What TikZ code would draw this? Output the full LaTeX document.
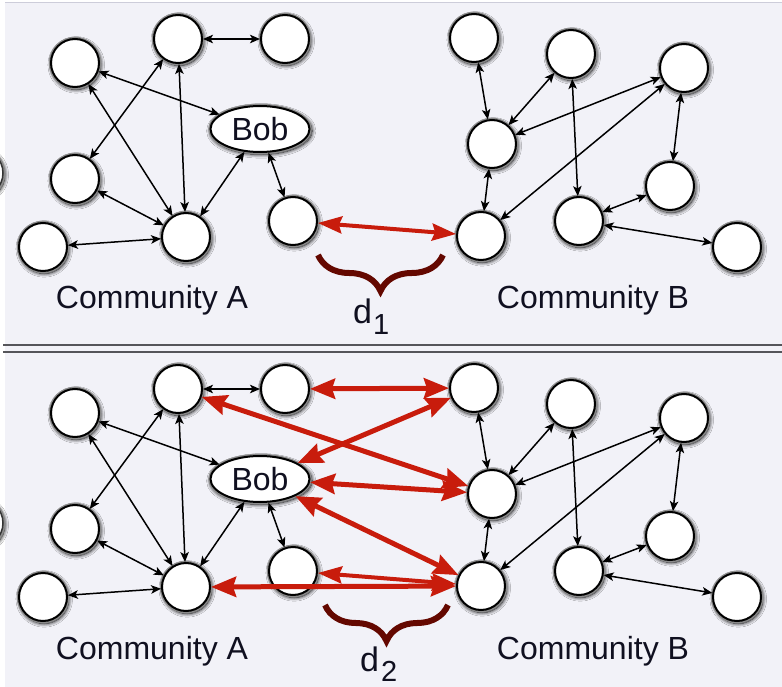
\documentclass[tikz,border=0pt]{standalone}
\usepackage{fontspec}
\setmainfont{Liberation Sans}
\usetikzlibrary{arrows.meta,shapes.geometric,shadows.blur,decorations.pathreplacing}
\definecolor{bg}{RGB}{242,242,248}
\definecolor{redarr}{RGB}{200,28,12}
\definecolor{bracecol}{RGB}{100,8,0}
\definecolor{txt}{RGB}{16,16,32}
\definecolor{sepcol}{RGB}{85,85,90}
\definecolor{framecol}{RGB}{205,205,218}
\tikzset{
  shad/.style={blur shadow={shadow blur radius=3.5pt, shadow xshift=1.2pt, shadow yshift=-1.8pt, shadow opacity=100, shadow scale=1.03, shadow blur steps=8}, preaction={draw=black!45, line width=4.5pt}},
  nd/.style={circle, draw=black, line width=2pt, fill=white, minimum size=48pt, inner sep=0pt, shad},
  bobnd/.style={ellipse, draw=black, line width=2pt, fill=white, minimum width=99pt, minimum height=46pt, inner sep=0pt, shad, font=\fontsize{32}{36}\selectfont, text=txt},
  bl/.style={line width=1.5pt, {Stealth[length=10pt,width=8.5pt,inset=2.5pt]}-{Stealth[length=10pt,width=8.5pt,inset=2.5pt]}},
  rd/.style={redarr, line width=4pt, {Stealth[length=24pt,width=17pt,inset=3pt]}-{Stealth[length=24pt,width=17pt,inset=3pt]}},
  rdb/.style={redarr, line width=5pt, {Stealth[length=25pt,width=20pt,inset=3pt]}-{Stealth[length=25pt,width=20pt,inset=3pt]}},
  lbl/.style={font=\fontsize{32}{36}\selectfont, text=txt, inner sep=0pt, anchor=base},
  br/.style={draw=bracecol, line width=6pt, decorate, decoration={brace, amplitude=36pt}},
  dlbl/.style={font=\fontsize{34}{36}\selectfont, text=txt, inner sep=0pt, anchor=base west},
  sublbl/.style={font=\fontsize{29}{30}\selectfont, text=txt, inner sep=0pt, anchor=base west}
}
\newcommand\mypanel[2]{%
  \begin{scope}[shift={(0,#2)}]
    \path[shad, draw=black!80, line width=1.5pt, fill=white] (-21,173) circle[radius=24pt];
    \node[nd] (#1a1) at (75,63) {};
    \node[nd] (#1a2) at (178,39) {};
    \node[nd] (#1a3) at (285,39) {};
    \node[bobnd] (#1bob) at (260,129) {Bob};
    \node[nd] (#1a4) at (75,179) {};
    \node[nd] (#1a5) at (186,237) {};
    \node[nd] (#1a6) at (43,247) {};
    \node[nd] (#1a7) at (293,221) {};
    \node[nd] (#1b1) at (474,38) {};
    \node[nd] (#1b2) at (571,54) {};
    \node[nd] (#1b3) at (684,68) {};
    \node[nd] (#1b4) at (492,144) {};
    \node[nd] (#1b5) at (670,186) {};
    \node[nd] (#1b6) at (579,221) {};
    \node[nd] (#1b7) at (481,236) {};
    \node[nd] (#1b8) at (737,247) {};
  \end{scope}
  \draw[bl] (#1a2) -- (#1a3);
  \draw[bl] (#1a1) -- (#1bob);
  \draw[bl] (#1a1) -- (#1a5);
  \draw[bl] (#1a2) -- (#1a4);
  \draw[bl] (#1a2) -- (#1a5);
  \draw[bl] (#1bob) -- (#1a5);
  \draw[bl] (#1bob) -- (#1a7);
  \draw[bl] (#1a4) -- (#1a5);
  \draw[bl] (#1a6) -- (#1a5);
  \draw[bl] (#1b1) -- (#1b4);
  \draw[bl] (#1b2) -- (#1b4);
  \draw[bl] (#1b3) -- (#1b4);
  \draw[bl] (#1b2) -- (#1b6);
  \draw[bl] (#1b3) -- (#1b7);
  \draw[bl] (#1b3) -- (#1b5);
  \draw[bl] (#1b4) -- (#1b7);
  \draw[bl] (#1b6) -- (#1b5);
  \draw[bl] (#1b6) -- (#1b8);
}
\begin{document}
\begin{tikzpicture}[x=1pt,y=-1pt]
  \useasboundingbox (0,0) rectangle (782,687);
  \fill[white] (0,0) rectangle (782,687);
  \fill[bg] (5,3) rectangle (782,687);
  \draw[framecol, line width=1pt] (5,3) -- (782,3);
  \draw[sepcol, line width=2.3pt] (3,345) -- (782,345);
  \draw[sepcol, line width=2.3pt] (3,352) -- (782,352);

  \mypanel{t}{0}
  \mypanel{b}{350}

  % labels
  \node[lbl] (labtA) at (152,308) {Community A};
  \node[lbl] (labtB) at (593,308) {Community B};
  \node[lbl] (labbA) at (152,659) {Community A};
  \node[lbl] (labbB) at (593,659) {Community B};

  % top: red link and brace
  \draw[rd] (ta7) -- (tb7);
  \draw[br] (443,255) -- (318,255);
  \node[dlbl] (d1) at (353,323) {d};
  \node[sublbl] (d1s) at (373,334) {1};

  % bottom: red links and brace
  \draw[rdb] (ba3) -- (bb1);
  \draw[rdb] (ba2) -- (bb4);
  \draw[rdb] (bb1) -- (bbob);
  \draw[rdb] (bbob) -- (bb4);
  \draw[rdb] (bbob) -- (bb7);
  \draw[rd] (ba7) -- (bb7);
  \draw[rdb] (ba5) -- (bb7);
  \draw[br] (448,605) -- (325,605);
  \node[dlbl] (d2) at (360,671) {d};
  \node[sublbl] (d2s) at (381,681) {2};
\end{tikzpicture}
\end{document}
